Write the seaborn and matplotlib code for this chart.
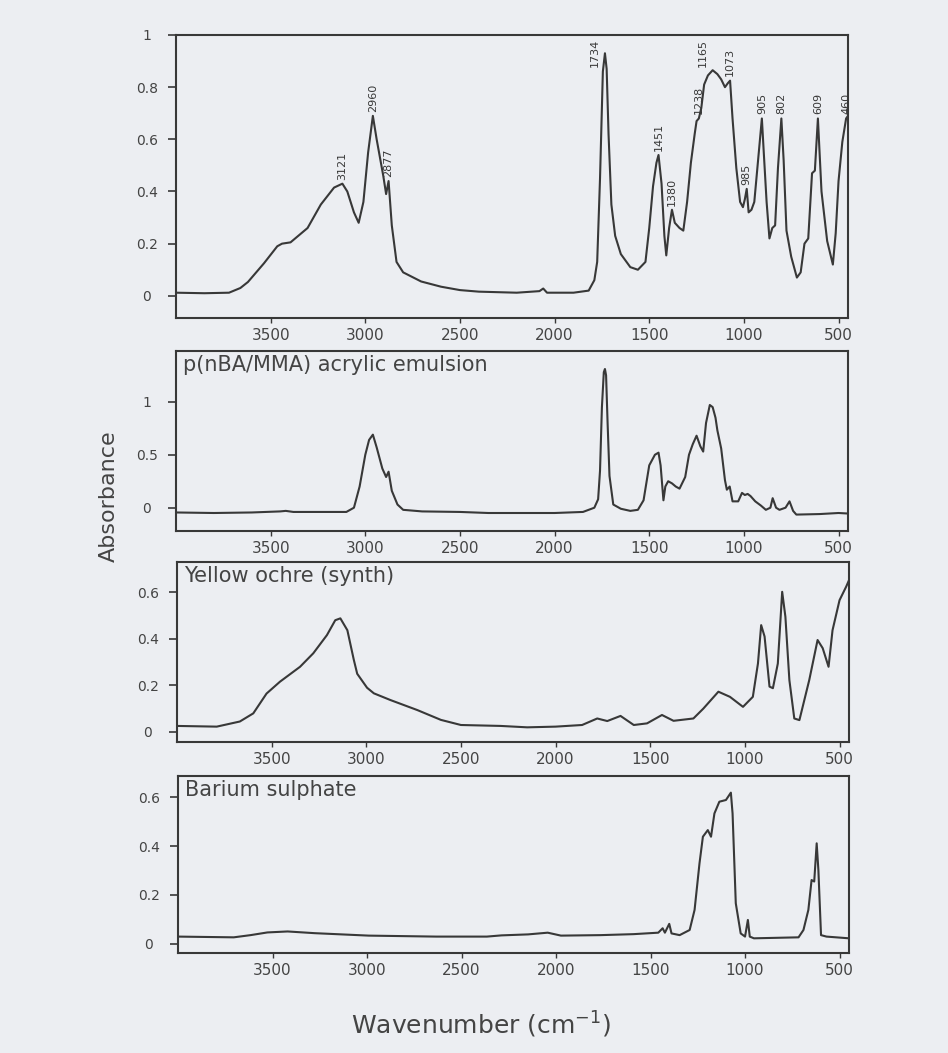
import matplotlib
matplotlib.use("Agg")
import matplotlib.pyplot as plt
import numpy as np
import pandas as pd
import seaborn as sns

# ---- Spectra: wavenumber (cm-1) and absorbance ----
paint_wn = [4000, 3850, 3720, 3660, 3620, 3535, 3465, 3440, 3395, 3305, 3235, 3165,
            3121, 3095, 3060, 3035, 3010, 2985, 2960, 2940, 2905, 2890, 2877, 2860,
            2835, 2800, 2705, 2600, 2500, 2400, 2200, 2080, 2060, 2040, 1900, 1820,
            1790, 1775, 1760, 1745, 1734, 1725, 1715, 1700, 1680, 1650, 1600, 1560,
            1520, 1500, 1480, 1462, 1451, 1435, 1420, 1410, 1395, 1380, 1365, 1340,
            1320, 1300, 1280, 1260, 1250, 1238, 1225, 1210, 1190, 1165, 1140, 1120,
            1100, 1085, 1073, 1060, 1040, 1020, 1005, 995, 985, 975, 960, 945, 925,
            905, 895, 880, 865, 850, 835, 820, 802, 790, 775, 750, 720, 700, 680,
            660, 640, 625, 609, 590, 560, 530, 515, 500, 480, 460, 450]
paint_abs = [0.012, 0.010, 0.012, 0.03, 0.053, 0.125, 0.19, 0.20, 0.205, 0.26, 0.35, 0.415,
             0.43, 0.40, 0.32, 0.28, 0.36, 0.55, 0.69, 0.60, 0.46, 0.39, 0.44, 0.27,
             0.13, 0.09, 0.055, 0.035, 0.022, 0.016, 0.012, 0.018, 0.028, 0.012, 0.012, 0.02,
             0.06, 0.13, 0.45, 0.86, 0.93, 0.87, 0.62, 0.35, 0.23, 0.16, 0.11, 0.10,
             0.13, 0.26, 0.42, 0.51, 0.54, 0.43, 0.23, 0.155, 0.26, 0.33, 0.28, 0.26,
             0.25, 0.36, 0.51, 0.62, 0.67, 0.68, 0.72, 0.81, 0.845, 0.865, 0.85, 0.83,
             0.80, 0.815, 0.825, 0.68, 0.49, 0.36, 0.34, 0.37, 0.41, 0.32, 0.33, 0.36, 0.52,
             0.68, 0.55, 0.36, 0.22, 0.26, 0.27, 0.49, 0.68, 0.52, 0.25, 0.15, 0.07, 0.09, 0.20,
             0.22, 0.47, 0.48, 0.68, 0.40, 0.21, 0.12, 0.24, 0.44, 0.59, 0.68, 0.69]
paint_peaks = [3121, 2960, 2877, 1734, 1451, 1380, 1238, 1165, 1073, 985, 905, 802, 609, 460]

acrylic_wn = [4000, 3800, 3600, 3450, 3420, 3380, 3200, 3100, 3060, 3030, 3000, 2980,
              2960, 2940, 2910, 2890, 2877, 2860, 2830, 2800, 2700, 2500, 2350, 2200,
              2000, 1850, 1790, 1770, 1760, 1750, 1740, 1734, 1728, 1720, 1710, 1690,
              1650, 1600, 1560, 1530, 1500, 1470, 1451, 1440, 1425, 1415, 1400, 1380,
              1360, 1340, 1310, 1290, 1270, 1250, 1230, 1215, 1200, 1180, 1165, 1150,
              1140, 1120, 1100, 1090, 1075, 1060, 1030, 1010, 995, 980, 965, 940, 910,
              884, 860, 848, 830, 812, 780, 759, 740, 723, 600, 500, 450]
acrylic_abs = [-0.045, -0.05, -0.045, -0.035, -0.03, -0.04, -0.04, -0.04, 0.0, 0.2, 0.5, 0.64,
               0.69, 0.57, 0.37, 0.29, 0.34, 0.16, 0.03, -0.02, -0.035, -0.04, -0.05, -0.05,
               -0.05, -0.04, 0.0, 0.08, 0.35, 0.95, 1.28, 1.31, 1.25, 0.8, 0.3, 0.03,
               -0.01, -0.03, -0.02, 0.07, 0.40, 0.50, 0.52, 0.40, 0.07, 0.20, 0.25, 0.23,
               0.20, 0.18, 0.29, 0.50, 0.60, 0.68, 0.58, 0.53, 0.80, 0.97, 0.95, 0.85,
               0.73, 0.56, 0.26, 0.17, 0.20, 0.06, 0.06, 0.14, 0.12, 0.13, 0.11, 0.06, 0.02,
               -0.02, 0.0, 0.09, 0.0, -0.02, 0.0, 0.06, -0.03, -0.065, -0.06, -0.05, -0.055]

ochre_wn = [4000, 3790, 3668, 3597, 3527, 3456, 3350, 3280, 3208, 3164, 3137, 3100,
            3066, 3048, 2996, 2960, 2872, 2730, 2606, 2500, 2290, 2150, 2000, 1860, 1780,
            1727, 1657, 1587, 1517, 1438, 1377, 1272, 1220, 1140, 1079, 1010, 958,
            931, 914, 896, 870, 852, 826, 803, 786, 765, 739, 712, 686, 660, 616,
            589, 558, 537, 500, 465, 450]
ochre_abs = [0.026, 0.023, 0.045, 0.08, 0.165, 0.216, 0.28, 0.338, 0.416, 0.48, 0.488, 0.437,
             0.31, 0.25, 0.19, 0.166, 0.137, 0.094, 0.052, 0.03, 0.026, 0.02, 0.023, 0.03, 0.058,
             0.047, 0.069, 0.03, 0.037, 0.073, 0.048, 0.058, 0.10, 0.173, 0.151, 0.108, 0.151,
             0.294, 0.459, 0.41, 0.195, 0.188, 0.294, 0.602, 0.495, 0.223, 0.058, 0.051, 0.137,
             0.223, 0.395, 0.36, 0.28, 0.437, 0.566, 0.624, 0.652]

baso4_wn = [4000, 3705, 3616, 3527, 3420, 3277, 2991, 2634, 2366, 2288, 2148, 2044,
            1974, 1764, 1590, 1459, 1436, 1424, 1401, 1389, 1346, 1293, 1267, 1241,
            1223, 1197, 1180, 1162, 1136, 1101, 1075, 1066, 1049, 1023, 1000, 985,
            975, 953, 717, 691, 665, 648, 634, 621, 612, 598, 569, 450]
baso4_abs = [0.03, 0.027, 0.036, 0.047, 0.051, 0.044, 0.034, 0.03, 0.03, 0.035, 0.039, 0.046,
             0.034, 0.036, 0.04, 0.046, 0.064, 0.046, 0.082, 0.043, 0.036, 0.057, 0.139, 0.329,
             0.438, 0.465, 0.438, 0.533, 0.581, 0.588, 0.618, 0.533, 0.166, 0.043, 0.03, 0.098,
             0.03, 0.023, 0.027, 0.057, 0.139, 0.261, 0.255, 0.411, 0.302, 0.036, 0.03, 0.023]

panel_titles = ["", "p(nBA/MMA) acrylic emulsion", "Yellow ochre (synth)", "Barium sulphate"]
x_ticks = [3500, 3000, 2500, 2000, 1500, 1000, 500]
y_ticks = [[0, 0.2, 0.4, 0.6, 0.8, 1.0], [0, 0.5, 1.0], [0, 0.2, 0.4, 0.6], [0, 0.2, 0.4, 0.6]]
y_tick_labels = [["0", "0.2", "0.4", "0.6", "0.8", "1"], ["0", "0.5", "1"],
                 ["0", "0.2", "0.4", "0.6"], ["0", "0.2", "0.4", "0.6"]]

# ---- Styling ----
sns.set_theme(style="ticks")
plt.rcParams["font.family"] = ["DejaVu Sans"]
PAPER = "#eceef2"
INK = "#383838"
TEXT = "#444444"

W, H = 948, 1053
fig = plt.figure(figsize=(W / 100, H / 100), dpi=100)
fig.patch.set_facecolor(PAPER)


def box(left, right, top, bottom):
    return [left / W, 1 - bottom / H, (right - left) / W, (bottom - top) / H]


boxes = [box(176, 848, 35, 318), box(176, 848, 351, 531),
         box(177, 849, 562, 742), box(178, 849, 776, 953)]
ylims = [(-0.085, 1.0), (-0.22, 1.48), (-0.043, 0.73), (-0.037, 0.686)]
spectra = [(paint_wn, paint_abs), (acrylic_wn, acrylic_abs),
           (ochre_wn, ochre_abs), (baso4_wn, baso4_abs)]

axes = []
for i, ((wn, ab), rect) in enumerate(zip(spectra, boxes)):
    ax = fig.add_axes(rect)
    ax.set_facecolor(PAPER)
    df = pd.DataFrame({"wavenumber": wn, "absorbance": ab})
    sns.lineplot(data=df, x="wavenumber", y="absorbance", ax=ax, color=INK,
                 linewidth=1.5, sort=False, estimator=None)
    ax.set_xlim(4000, 450)
    ax.set_ylim(*ylims[i])
    ax.set_xticks(x_ticks)
    ax.set_xticklabels([str(t) for t in x_ticks])
    ax.set_yticks(y_ticks[i])
    ax.set_yticklabels(y_tick_labels[i])
    ax.set_xlabel("")
    ax.set_ylabel("")
    for s in ax.spines.values():
        s.set_visible(True)
        s.set_color(INK)
        s.set_linewidth(1.5)
    ax.tick_params(axis="x", direction="out", length=3.5, width=1.0, colors=INK,
                   labelsize=11, labelcolor=TEXT, pad=4)
    ax.tick_params(axis="y", direction="out", length=6, width=1.2, colors=INK,
                   labelsize=10, labelcolor=TEXT, pad=15)
    for lab in ax.get_yticklabels():
        lab.set_horizontalalignment("center")
    if panel_titles[i]:
        ax.annotate(panel_titles[i], xy=(0, 1), xycoords="axes fraction",
                    xytext=(7, -4), textcoords="offset pixels", ha="left", va="top",
                    fontsize=15, color=TEXT)
    axes.append(ax)

# Peak annotations on the paint film spectrum
ax0 = axes[0]
for pk in paint_peaks:
    val = paint_abs[paint_wn.index(pk)]
    if val > 0.85:
        ax0.annotate(str(pk), xy=(pk, 0.985), xytext=(-7, 0), textcoords="offset points",
                     rotation=90, ha="center", va="top", fontsize=8, color=INK)
    else:
        ax0.annotate(str(pk), xy=(pk, val), xytext=(0, 3), textcoords="offset points",
                     rotation=90, ha="center", va="bottom", fontsize=8, color=INK)

fig.text(109 / W, 1 - 496 / H, "Absorbance", rotation=90, fontsize=16,
         ha="center", va="center", color=TEXT)
fig.text(481 / W, 1 - 1025 / H, r"Wavenumber (cm$^{-1}$)", fontsize=18,
         ha="center", va="center", color=TEXT)

fig.savefig("out.png", dpi=100, facecolor=PAPER)
